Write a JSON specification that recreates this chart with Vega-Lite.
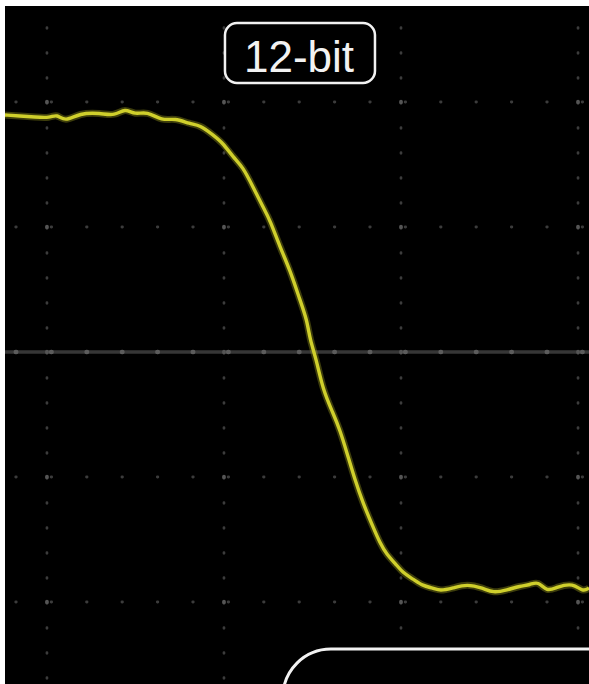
{
  "$schema": "https://vega.github.io/schema/vega-lite/v6.json",
  "width": 584,
  "height": 678,
  "autosize": {"type": "none"},
  "padding": {"left": 5, "top": 6, "right": 0, "bottom": 0},
  "background": "white",
  "view": {"fill": "black", "stroke": null},
  "config": {"axis": {"disable": true}},
  "datasets": {
    "trace": [
      {"t": -1.237, "v": 1.896}, {"t": -1.153, "v": 1.888}, {"t": -1.068, "v": 1.880}, {"t": -0.983, "v": 1.872},
      {"t": -0.944, "v": 1.904}, {"t": -0.898, "v": 1.840}, {"t": -0.814, "v": 1.912}, {"t": -0.701, "v": 1.912},
      {"t": -0.616, "v": 1.888}, {"t": -0.559, "v": 1.952}, {"t": -0.503, "v": 1.896}, {"t": -0.435, "v": 1.928},
      {"t": -0.350, "v": 1.848}, {"t": -0.277, "v": 1.872}, {"t": -0.192, "v": 1.824}, {"t": -0.136, "v": 1.816},
      {"t": -0.062, "v": 1.736}, {"t": -0.006, "v": 1.672}, {"t": 0.051, "v": 1.560}, {"t": 0.107, "v": 1.480},
      {"t": 0.164, "v": 1.320}, {"t": 0.220, "v": 1.160}, {"t": 0.260, "v": 1.056}, {"t": 0.316, "v": 0.840},
      {"t": 0.373, "v": 0.656}, {"t": 0.429, "v": 0.416}, {"t": 0.469, "v": 0.256}, {"t": 0.486, "v": 0.096},
      {"t": 0.520, "v": -0.048}, {"t": 0.559, "v": -0.304}, {"t": 0.616, "v": -0.488}, {"t": 0.655, "v": -0.624},
      {"t": 0.695, "v": -0.808}, {"t": 0.740, "v": -1.024}, {"t": 0.785, "v": -1.208}, {"t": 0.842, "v": -1.400},
      {"t": 0.881, "v": -1.528}, {"t": 0.921, "v": -1.624}, {"t": 0.966, "v": -1.688}, {"t": 1.011, "v": -1.768},
      {"t": 1.068, "v": -1.816}, {"t": 1.124, "v": -1.872}, {"t": 1.181, "v": -1.888}, {"t": 1.220, "v": -1.912},
      {"t": 1.294, "v": -1.888}, {"t": 1.373, "v": -1.856}, {"t": 1.463, "v": -1.888}, {"t": 1.520, "v": -1.928},
      {"t": 1.599, "v": -1.904}, {"t": 1.672, "v": -1.872}, {"t": 1.729, "v": -1.864}, {"t": 1.774, "v": -1.832},
      {"t": 1.825, "v": -1.920}, {"t": 1.881, "v": -1.880}, {"t": 1.972, "v": -1.848}, {"t": 2.028, "v": -1.920},
      {"t": 2.062, "v": -1.888}
    ],
    "vgrid": [{"t": -1}, {"t": 0}, {"t": 1}, {"t": 2}],
    "hgrid": [{"v": -2}, {"v": -1}, {"v": 0}, {"v": 1}, {"v": 2}],
    "center": [{"v": 0}],
    "boxes": [
      {"t": 0.333, "t2": 3.0, "v": -2.376, "v2": -3.2}
    ],
    "labelbox": [
      {"t": 0.0056, "t2": 0.853, "v": 2.632, "v2": 2.152}
    ],
    "label": [{"t": 0.424, "v": 2.24, "text": "12-bit"}]
  },
  "layer": [
    {
      "data": {"name": "center"},
      "mark": {"type": "rule", "color": "#363636", "strokeWidth": 3.5},
      "encoding": {"y": {"field": "v", "type": "quantitative", "scale": {"domain": [-2.656, 2.768], "nice": false, "zero": false}}}
    },
    {
      "data": {"name": "vgrid"},
      "mark": {"type": "rule", "color": "#3c3c3c", "strokeWidth": 2.8, "strokeCap": "round", "strokeDash": [0.5, 24.5], "strokeDashOffset": 3.25},
      "encoding": {"x": {"field": "t", "type": "quantitative", "scale": {"domain": [-1.237, 2.062], "nice": false, "zero": false}}}
    },
    {
      "data": {"name": "vgrid"},
      "mark": {"type": "rule", "color": "#555555", "strokeWidth": 3.8, "strokeCap": "round", "strokeDash": [0.5, 124.5], "strokeDashOffset": 29.25},
      "encoding": {"x": {"field": "t", "type": "quantitative"}}
    },
    {
      "data": {"name": "hgrid"},
      "mark": {"type": "rule", "color": "#3c3c3c", "strokeWidth": 2.8, "strokeCap": "round", "strokeDash": [0.5, 34.9], "strokeDashOffset": 29.05},
      "encoding": {"y": {"field": "v", "type": "quantitative"}}
    },
    {
      "data": {"name": "center"},
      "mark": {"type": "rule", "color": "#5c5c5c", "strokeWidth": 4.5, "strokeCap": "round", "strokeDash": [0.5, 34.9], "strokeDashOffset": 29.05},
      "encoding": {"y": {"field": "v", "type": "quantitative"}}
    },
    {
      "data": {"name": "trace"},
      "mark": {"type": "line", "color": "#b0b020", "strokeWidth": 7, "opacity": 0.35, "interpolate": "basis", "clip": true},
      "encoding": {
        "x": {"field": "t", "type": "quantitative"},
        "y": {"field": "v", "type": "quantitative"}
      }
    },
    {
      "data": {"name": "trace"},
      "mark": {"type": "line", "color": "#cfcf2c", "strokeWidth": 3.4, "interpolate": "basis", "clip": true},
      "encoding": {
        "x": {"field": "t", "type": "quantitative"},
        "y": {"field": "v", "type": "quantitative"}
      }
    },
    {
      "data": {"name": "boxes"},
      "mark": {"type": "rect", "fill": "black", "stroke": "#f2f2f2", "strokeWidth": 3, "cornerRadius": 48, "clip": true},
      "encoding": {
        "x": {"field": "t", "type": "quantitative"},
        "x2": {"field": "t2"},
        "y": {"field": "v", "type": "quantitative"},
        "y2": {"field": "v2"}
      }
    },
    {
      "data": {"name": "labelbox"},
      "mark": {"type": "rect", "fill": "black", "stroke": "#f2f2f2", "strokeWidth": 2.5, "cornerRadius": 12},
      "encoding": {
        "x": {"field": "t", "type": "quantitative"},
        "x2": {"field": "t2"},
        "y": {"field": "v", "type": "quantitative"},
        "y2": {"field": "v2"}
      }
    },
    {
      "data": {"name": "label"},
      "mark": {"type": "text", "font": "Liberation Sans", "fontSize": 44, "color": "#f2f2f2", "align": "center", "baseline": "alphabetic"},
      "encoding": {
        "x": {"field": "t", "type": "quantitative"},
        "y": {"field": "v", "type": "quantitative"},
        "text": {"field": "text"}
      }
    }
  ]
}
